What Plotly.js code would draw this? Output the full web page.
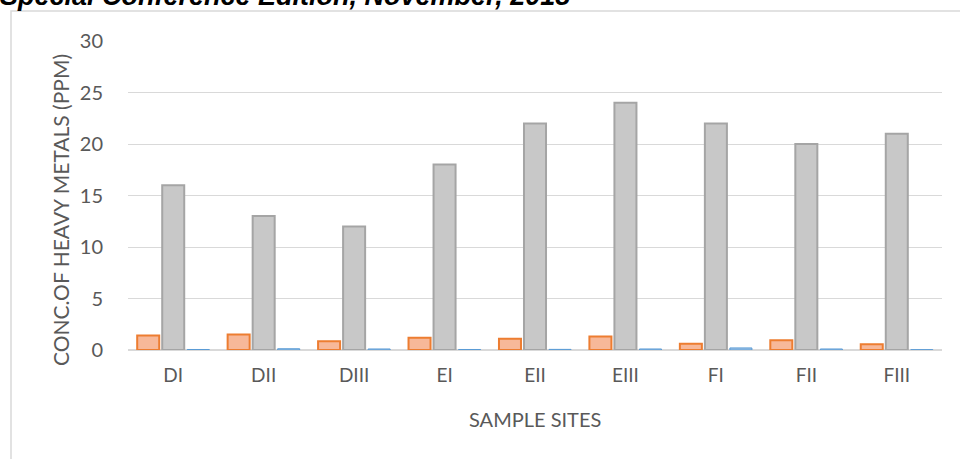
<!DOCTYPE html>
<html>
<head>
<meta charset="utf-8">
<script src="https://cdn.plot.ly/plotly-3.0.1.min.js"></script>
<style>html,body{margin:0;padding:0;background:#fff;}#chart{width:960px;height:459px;}</style>
</head>
<body>
<div id="chart"></div>
<script>
var sites = ["DI", "DII", "DIII", "EI", "EII", "EIII", "FI", "FII", "FIII"];
var seriesA = [1.4, 1.5, 0.85, 1.2, 1.1, 1.3, 0.6, 0.95, 0.55];
var seriesB = [16, 13, 12, 18, 22, 24, 22, 20, 21];
var seriesC = [0.05, 0.12, 0.1, 0.05, 0.06, 0.1, 0.2, 0.1, 0.03];
var yTicks = [0, 5, 10, 15, 20, 25, 30];

var fontFam = "Lato, 'Open Sans', sans-serif";
var traces = [
  {type: "bar", x: sites, y: seriesA, name: "A",
   marker: {color: "#f7b899", line: {color: "#ed7d31", width: 2}}},
  {type: "bar", x: sites, y: seriesB, name: "B",
   marker: {color: "#c8c8c8", line: {color: "#a5a5a5", width: 2}}},
  {type: "bar", x: sites, y: seriesC, name: "C",
   marker: {color: "#9dc3e6", line: {color: "#5b9bd5", width: 1}}}
];

var L = 128, R = 942, T = 41, B = 350;
function px(x){ return (x - L) / (R - L); }
function py(y){ return (B - y) / (B - T); }

var layout = {
  width: 960, height: 459,
  margin: {l: L, r: 960 - R, t: T, b: 459 - B},
  paper_bgcolor: "#ffffff", plot_bgcolor: "#ffffff",
  showlegend: false,
  barmode: "group", bargap: 0.17, bargroupgap: 0.12,
  font: {family: fontFam, color: "#595959", size: 20},
  xaxis: {
    type: "category", showgrid: false, zeroline: false, showline: false,
    ticks: "", ticklabelstandoff: 12,
    tickfont: {family: fontFam, size: 19, color: "#595959"},
    fixedrange: true
  },
  yaxis: {
    range: [0, 30], tickvals: yTicks, ticktext: yTicks.map(String),
    showgrid: true, gridcolor: "#d9d9d9", gridwidth: 1,
    zeroline: true, zerolinecolor: "#d9d9d9", zerolinewidth: 2,
    showline: false, ticks: "", ticklabelstandoff: 24,
    tickfont: {family: fontFam, size: 20, color: "#595959"},
    fixedrange: true
  },
  shapes: [
    {type: "rect", xref: "paper", yref: "paper",
     x0: px(11), x1: px(975), y0: py(475), y1: py(11),
     line: {color: "#d9d9d9", width: 1.5}, fillcolor: "rgba(0,0,0,0)", layer: "below"}
  ],
  annotations: [
    {text: "<b><i>Special Conference Edition, November, 2018</i></b>",
     xref: "paper", yref: "paper", x: px(-2), y: py(-4), xanchor: "left", yanchor: "middle",
     showarrow: false, font: {family: "'Liberation Sans', Arial, sans-serif", size: 27, color: "#000000"}},
    {text: "CONC.OF HEAVY METALS (PPM)", textangle: -90,
     xref: "paper", yref: "paper", x: px(60), y: py(210), xanchor: "center", yanchor: "middle",
     showarrow: false, font: {family: fontFam, size: 21, color: "#595959"}},
    {text: "SAMPLE SITES",
     xref: "paper", yref: "paper", x: px(535), y: py(419), xanchor: "center", yanchor: "middle",
     showarrow: false, font: {family: fontFam, size: 20, color: "#595959"}}
  ]
};

Plotly.newPlot("chart", traces, layout, {displayModeBar: false, staticPlot: true});
</script>
</body>
</html>
